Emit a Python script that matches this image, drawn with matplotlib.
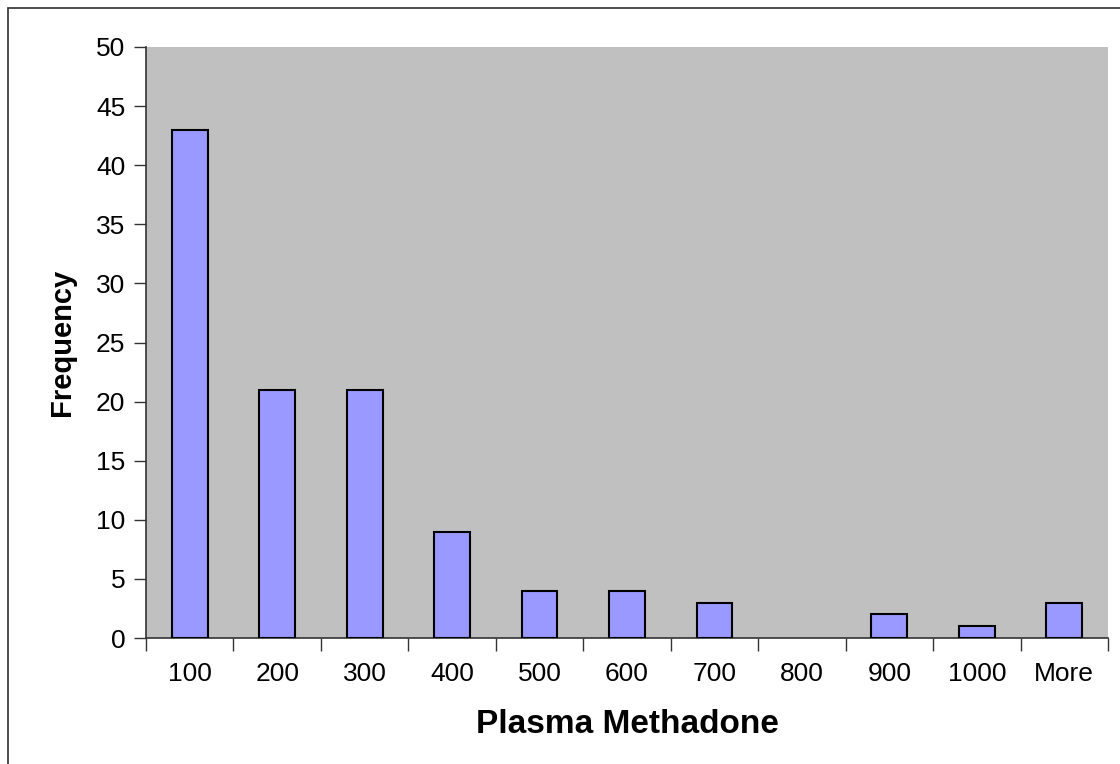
import numpy as np
import matplotlib.pyplot as plt
from matplotlib.patches import Rectangle

plt.rcParams['font.family'] = ['Liberation Sans', 'DejaVu Sans']

categories = ['100', '200', '300', '400', '500', '600', '700', '800', '900', '1000', 'More']
frequency = [43, 21, 21, 9, 4, 4, 3, 0, 2, 1, 3]

fig = plt.figure(figsize=(11.2, 7.64), dpi=100)
fig.patch.set_facecolor('white')
# outer chart border
fig.patches.append(Rectangle((8 / 1120, -0.01), 1.02, 1 - 8 / 764 + 0.01,
                             transform=fig.transFigure, fill=False,
                             edgecolor='#303030', linewidth=1.2))

ax = fig.add_axes([146 / 1120, 1 - 638 / 764, (1108 - 146) / 1120, (638 - 47) / 764])
ax.set_facecolor('#C0C0C0')

x = np.arange(len(categories))
edges = ['black' if f > 0 else 'none' for f in frequency]
ax.bar(x, frequency, width=0.41, color='#9999FF', edgecolor=edges, linewidth=1.5, zorder=3)

ax.set_xlim(-0.5, len(categories) - 0.5)
ax.set_ylim(0, 50)
ax.set_yticks(np.arange(0, 51, 5))
ax.set_xticks(x)
ax.set_xticklabels(categories)
ax.set_xticks(np.arange(-0.5, len(categories), 1), minor=True)
ax.tick_params(axis='x', which='major', length=0, labelsize=19, pad=17)
ax.tick_params(axis='x', which='minor', length=9, width=1, color='#333333', direction='out')
ax.tick_params(axis='y', length=9, width=1, color='#333333', labelsize=19, pad=6)

for s in ['top', 'right']:
    ax.spines[s].set_visible(False)
for s in ['left', 'bottom']:
    ax.spines[s].set_color('#333333')
    ax.spines[s].set_linewidth(1.2)

ax.set_xlabel('Plasma Methadone', fontsize=24, fontweight='bold', labelpad=17)
ax.set_ylabel('Frequency', fontsize=21, fontweight='bold', labelpad=14)

plt.savefig('out.png', dpi=100)
